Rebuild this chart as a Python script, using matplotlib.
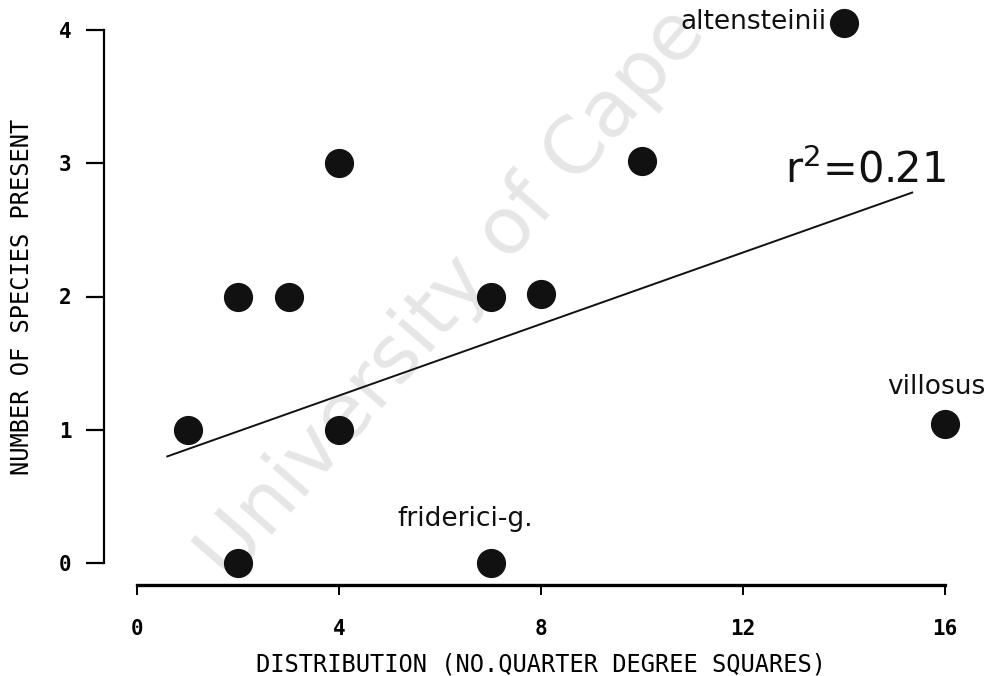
import matplotlib
matplotlib.use("Agg")
import matplotlib.pyplot as plt

# data
distribution = [1, 2, 2, 3, 4, 4, 7, 7, 8, 10, 14, 16]
species_present = [1.0, 2.0, 0.0, 2.0, 3.0, 1.0, 2.0, 0.0, 2.02, 3.02, 4.05, 1.04]

# regression line end points
fit_x = [0.6, 15.35]
fit_y = [0.80, 2.78]
r_squared = "0.21"

# named species and where their labels sit
species_names = ["altensteinii", "villosus", "friderici-g."]
name_x = [13.65, 16.8, 5.15]
name_y = [4.06, 1.32, 0.33]
name_ha = ["right", "right", "left"]

x_ticks = [0, 4, 8, 12, 16]
y_ticks = [0, 1, 2, 3, 4]

mono = "DejaVu Sans Mono"

fig = plt.figure(figsize=(9.88, 6.76), dpi=100)
ax = fig.add_axes([137 / 988, 113 / 676, 808 / 988, 533 / 676])
ax.patch.set_visible(False)

# scan watermark
ax.text(230 / 988, 92 / 676, "University of Cape Town", transform=fig.transFigure,
        rotation=49, rotation_mode="anchor", ha="left", va="baseline",
        fontsize=57, color="#e6e6e6", family="DejaVu Sans", zorder=0, clip_on=False)

ax.plot(distribution, species_present, "o", color="#111111", ms=20,
        clip_on=False, zorder=3)
ax.plot(fit_x, fit_y, color="#111111", lw=1.4, zorder=2)

for name, x, y, ha in zip(species_names, name_x, name_y, name_ha):
    ax.text(x, y, name, ha=ha, va="center", fontsize=19, family="DejaVu Sans",
            color="#111111", clip_on=False)

ax.text(12.83, 2.95, r"r$^{2}$=" + r_squared, ha="left", va="center",
        fontsize=30, family="DejaVu Sans", color="#111111")

ax.set_xlim(0, 16)
ax.set_ylim(0, 4)
ax.set_xticks(x_ticks)
ax.set_yticks(y_ticks)

for side in ["top", "right"]:
    ax.spines[side].set_visible(False)
ax.spines["left"].set_position(("outward", 24))
ax.spines["bottom"].set_position(("outward", 16))
ax.spines["left"].set_bounds(0, 4)
ax.spines["bottom"].set_bounds(0, 16)
ax.spines["left"].set_linewidth(1.6)
ax.spines["bottom"].set_linewidth(2.4)

ax.tick_params(axis="y", length=13, width=1.6, pad=10, labelsize=15)
ax.tick_params(axis="x", length=7, width=1.4, pad=17, labelsize=15)
for lab in ax.get_xticklabels() + ax.get_yticklabels():
    lab.set_family(mono)
    lab.set_fontweight("bold")

ax.set_xlabel("DISTRIBUTION (NO.QUARTER DEGREE SQUARES)", family=mono,
              fontsize=17, labelpad=10)
ax.set_ylabel("NUMBER OF SPECIES PRESENT", family=mono, fontsize=17,
              labelpad=18)

fig.savefig("out.png", dpi=100)
